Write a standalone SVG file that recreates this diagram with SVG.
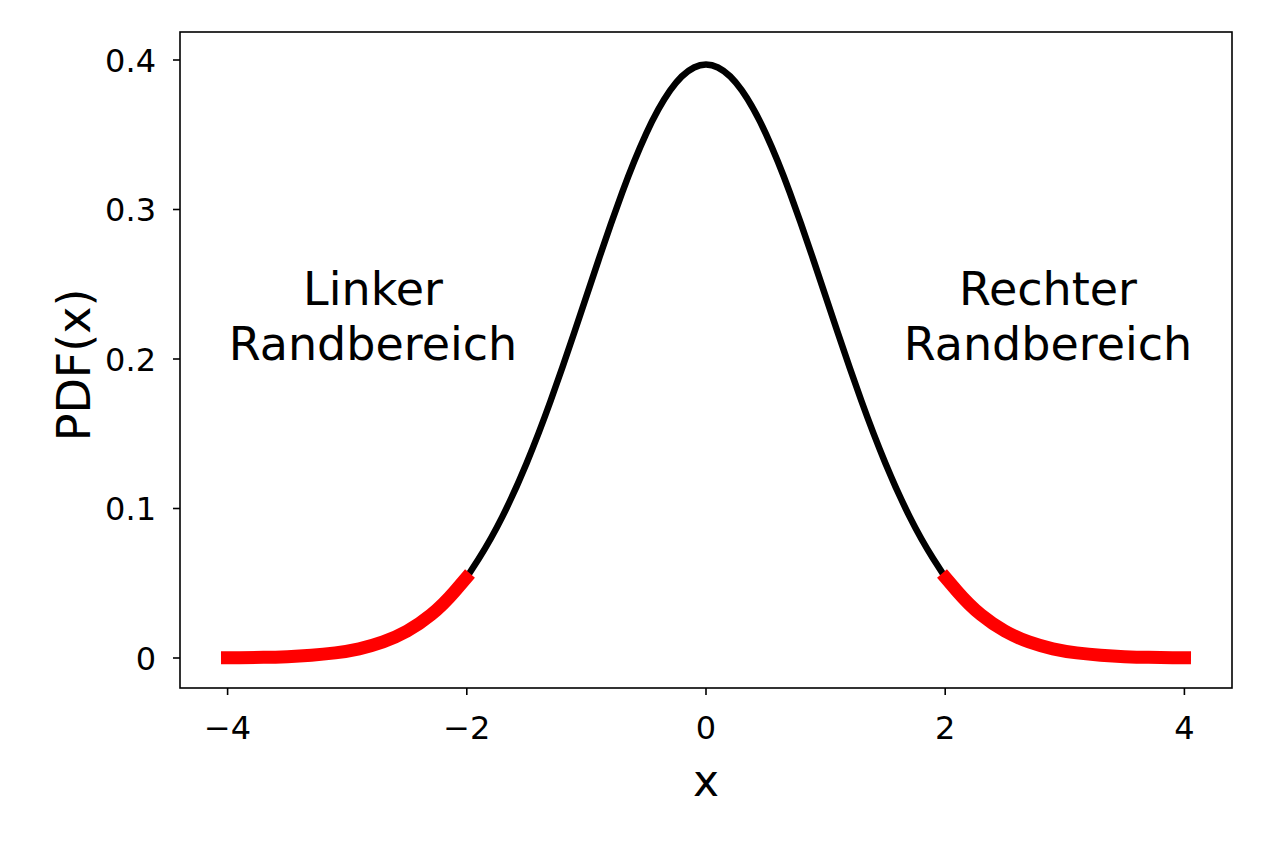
<svg xmlns="http://www.w3.org/2000/svg" width="1264" height="843" viewBox="0 0 1264 843">
<style>
text{font-family:"DejaVu Sans",sans-serif;fill:#000}
.t{font-size:32px}
.lab{font-size:46px;text-anchor:middle}
.tk{stroke:#000;stroke-width:1.6}
</style>
<rect width="1264" height="843" fill="#fff"/>
<g id="axes">
<rect x="180" y="32" width="1052" height="656" fill="none" stroke="#000" stroke-width="1.6"/>
<g class="tk">
<line x1="227.6" y1="688" x2="227.6" y2="695"/><line x1="466.8" y1="688" x2="466.8" y2="695"/><line x1="706" y1="688" x2="706" y2="695"/><line x1="945.2" y1="688" x2="945.2" y2="695"/><line x1="1184.4" y1="688" x2="1184.4" y2="695"/>
<line x1="173" y1="658" x2="180" y2="658"/><line x1="173" y1="508.5" x2="180" y2="508.5"/><line x1="173" y1="359" x2="180" y2="359"/><line x1="173" y1="209.5" x2="180" y2="209.5"/><line x1="173" y1="60" x2="180" y2="60"/>
</g>
<g class="t" text-anchor="middle">
<text x="227.6" y="739">−4</text><text x="466.8" y="739">−2</text><text x="706" y="739">0</text><text x="945.2" y="739">2</text><text x="1184.4" y="739">4</text>
</g>
<g class="t" text-anchor="end">
<text x="156" y="670">0</text><text x="156" y="520">0.1</text><text x="156" y="371">0.2</text><text x="156" y="221">0.3</text><text x="156" y="72">0.4</text>
</g>
<text x="706" y="796" font-size="44" text-anchor="middle">x</text>
<text transform="translate(90,365) rotate(-90)" font-size="46" text-anchor="middle">PDF(x)</text>
</g>
<g id="curve" fill="none" stroke-linejoin="round">
<path stroke="#000" stroke-width="6.5" d="M466.8,577.3 L478.75,558.65 Q490.7,540 502.65,516.1 Q514.6,492.2 526.6,463.2 Q538.6,434.2 550.55,401 Q562.5,367.7 574.45,332 Q586.4,296.3 598.35,260.6 Q610.3,224.9 622.25,192.35 Q634.2,159.8 646.2,133.6 Q658.2,107.4 670.15,90.4 Q682.1,73.4 694.05,67.5 Q706,61.6 717.95,67.5 Q729.9,73.4 741.85,90.4 Q753.8,107.4 765.8,133.6 Q777.8,159.8 789.75,192.35 Q801.7,224.9 813.65,260.6 Q825.6,296.3 837.55,332 Q849.5,367.7 861.45,401 Q873.4,434.2 885.4,463.2 Q897.4,492.2 909.35,516.1 Q921.3,540 933.25,558.65 L945.2,577.3"/>
<path stroke="#f00" stroke-width="13" d="M221,657.8 L239.55,657.7 Q251.5,657.6 263.45,657.35 Q275.4,657.1 287.4,656.65 Q299.4,656.2 311.35,655.3 Q323.3,654.4 335.25,652.9 Q347.2,651.4 359.15,648.8 Q371.1,646.2 383.05,641.95 Q395,637.7 407,631.1 Q419,624.5 430.95,614.75 Q442.9,605 454.85,591.15 L470,573.5"/>
<path stroke="#f00" stroke-width="13" d="M942,573.5 L957.15,591.15 Q969.1,605 981.05,614.75 Q993,624.5 1005,631.1 Q1017,637.7 1028.95,641.95 Q1040.9,646.2 1052.85,648.8 Q1064.8,651.4 1076.75,652.9 Q1088.7,654.4 1100.65,655.3 Q1112.6,656.2 1124.6,656.65 Q1136.6,657.1 1148.55,657.35 Q1160.5,657.6 1172.45,657.7 L1191,657.8"/>
</g>
<g id="left-label" class="lab"><text x="373" y="305">Linker</text><text x="373" y="360">Randbereich</text></g>
<g id="right-label" class="lab"><text x="1048" y="305">Rechter</text><text x="1048" y="360">Randbereich</text></g>
</svg>
